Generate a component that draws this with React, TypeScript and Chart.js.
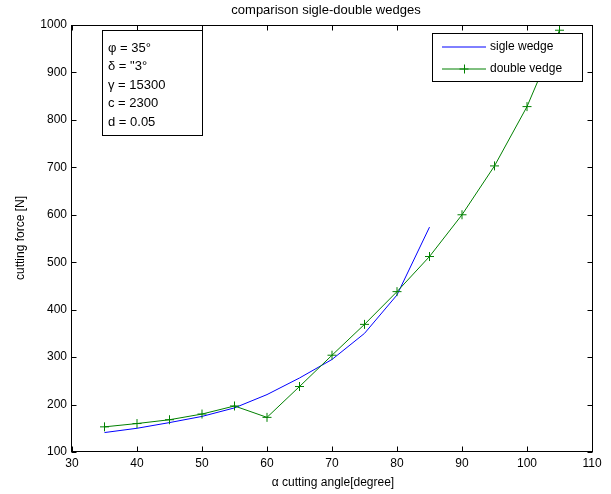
import { useEffect, useRef } from 'react';
import { Chart, registerables } from 'chart.js';
Chart.register(...registerables);

const singleAngles = [35, 40, 45, 50, 55, 60, 65, 70, 75, 80, 85];
const singleForce = [141, 150, 162, 175, 193, 221, 256, 295, 350, 431, 574];
const doubleAngles = [35, 40, 45, 50, 55, 60, 65, 70, 75, 80, 85, 90, 95, 100, 105];
const doubleForce = [153, 160, 168, 180, 197, 173, 238, 304, 369, 438, 512, 600, 703, 828, 989];

const xMin = 30, xMax = 110, xStep = 10;
const yMin = 100, yMax = 1000, yStep = 100;

const titleText = 'comparison sigle-double wedges';
const xLabel = 'α cutting angle[degree]';
const yLabel = 'cutting force [N]';
const seriesLabels = ['sigle wedge', 'double vedge'];
const paramLines = ['φ = 35°', 'δ = "3°', 'γ = 15300', 'c = 2300', 'd = 0.05'];

const FONT = '"Liberation Sans", Arial, Helvetica, sans-serif';

const decorPlugin = {
  id: 'decor',
  afterDatasetsDraw(chart: any) {
    const ctx = chart.ctx as CanvasRenderingContext2D;
    const { left, right, top, bottom } = chart.chartArea;
    const L = Math.floor(left) - 0.5;
    const R = Math.floor(right) + 0.5;
    const T = Math.floor(top) + 0.5;
    const B = Math.floor(bottom) - 0.5;
    ctx.save();
    ctx.strokeStyle = '#000';
    ctx.lineWidth = 1;
    ctx.strokeRect(L, T, R - L, B - T);
    const xs = chart.scales.x;
    const ys = chart.scales.y;
    ctx.beginPath();
    xs.ticks.forEach((t: any) => {
      const px = Math.round(xs.getPixelForValue(t.value)) + 0.5;
      ctx.moveTo(px, B); ctx.lineTo(px, B - 5);
      ctx.moveTo(px, T); ctx.lineTo(px, T + 5);
    });
    ys.ticks.forEach((t: any) => {
      const py = Math.round(ys.getPixelForValue(t.value)) + 0.5;
      ctx.moveTo(L, py); ctx.lineTo(L + 5, py);
      ctx.moveTo(R, py); ctx.lineTo(R - 5, py);
    });
    ctx.stroke();

    // title & axis labels
    ctx.fillStyle = '#000';
    ctx.textAlign = 'center';
    ctx.textBaseline = 'middle';
    ctx.font = `13px ${FONT}`;
    ctx.fillText(titleText, 326, 10);
    ctx.font = `12px ${FONT}`;
    ctx.fillText(xLabel, 333, 483);
    ctx.save();
    ctx.translate(21, 238);
    ctx.rotate(-Math.PI / 2);
    ctx.fillText(yLabel, 0, 0);
    ctx.restore();

    // parameter box
    ctx.fillStyle = '#fff';
    ctx.fillRect(102.5, 30.5, 100, 105);
    ctx.strokeRect(102.5, 30.5, 100, 105);
    ctx.fillStyle = '#000';
    ctx.textAlign = 'left';
    ctx.font = `13px ${FONT}`;
    paramLines.forEach((s, i) => ctx.fillText(s, 108, 48 + i * 18.5));

    // legend
    ctx.fillStyle = '#fff';
    ctx.fillRect(432.5, 33.5, 150, 48);
    ctx.strokeRect(432.5, 33.5, 150, 48);
    const ds = chart.data.datasets;
    ds.forEach((d: any, i: number) => {
      const y = 47 + i * 22;
      ctx.strokeStyle = d.borderColor;
      ctx.lineWidth = 1;
      ctx.beginPath();
      ctx.moveTo(442, y); ctx.lineTo(486, y);
      ctx.stroke();
      if (d.pointRadius > 0) {
        ctx.beginPath();
        ctx.moveTo(464 - 4.5, y); ctx.lineTo(464 + 4.5, y);
        ctx.moveTo(464.5, y - 4.5); ctx.lineTo(464.5, y + 4.5);
        ctx.stroke();
      }
      ctx.fillStyle = '#000';
      ctx.font = `12px ${FONT}`;
      ctx.fillText(d.label, 490, y);
    });
    ctx.restore();
  },
};

export default function App() {
  const ref = useRef<HTMLCanvasElement>(null);
  useEffect(() => {
    const chart = new Chart(ref.current!, {
      type: 'line',
      data: {
        datasets: [
          {
            label: seriesLabels[0],
            data: singleAngles.map((a, i) => ({ x: a, y: singleForce[i] })),
            borderColor: '#0000ff',
            borderWidth: 1,
            pointRadius: 0,
            fill: false,
            order: 1,
          },
          {
            label: seriesLabels[1],
            data: doubleAngles.map((a, i) => ({ x: a, y: doubleForce[i] })),
            borderColor: '#008000',
            borderWidth: 1,
            pointStyle: 'cross',
            pointRadius: 4.5,
            pointBorderColor: '#008000',
            pointBorderWidth: 1,
            fill: false,
            order: 0,
          },
        ],
      },
      options: {
        responsive: false,
        animation: false,
        layout: { padding: { top: 25, right: 19, left: 0, bottom: 0 } },
        plugins: { legend: { display: false }, title: { display: false }, tooltip: { enabled: false } },
        scales: {
          x: {
            type: 'linear',
            min: xMin,
            max: xMax,
            ticks: { stepSize: xStep, color: '#000', font: { family: FONT, size: 12 }, padding: 4, maxRotation: 0, callback: (v: any) => String(v) },
            grid: { display: false, drawTicks: false },
            border: { display: false },
            afterFit: (s: any) => { s.height = 42; },
          },
          y: {
            type: 'linear',
            min: yMin,
            max: yMax,
            ticks: { stepSize: yStep, color: '#000', font: { family: FONT, size: 12 }, padding: 5, callback: (v: any) => String(v) },
            grid: { display: false, drawTicks: false },
            border: { display: false },
            afterFit: (s: any) => { s.width = 72; },
          },
        },
      },
      plugins: [decorPlugin],
    });
    return () => chart.destroy();
  }, []);
  return (
    <div style={{ position: 'absolute', left: 0, top: 0, width: 611, height: 494, background: '#fff' }}>
      <canvas ref={ref} width={611} height={494} style={{ display: 'block' }} />
    </div>
  );
}
